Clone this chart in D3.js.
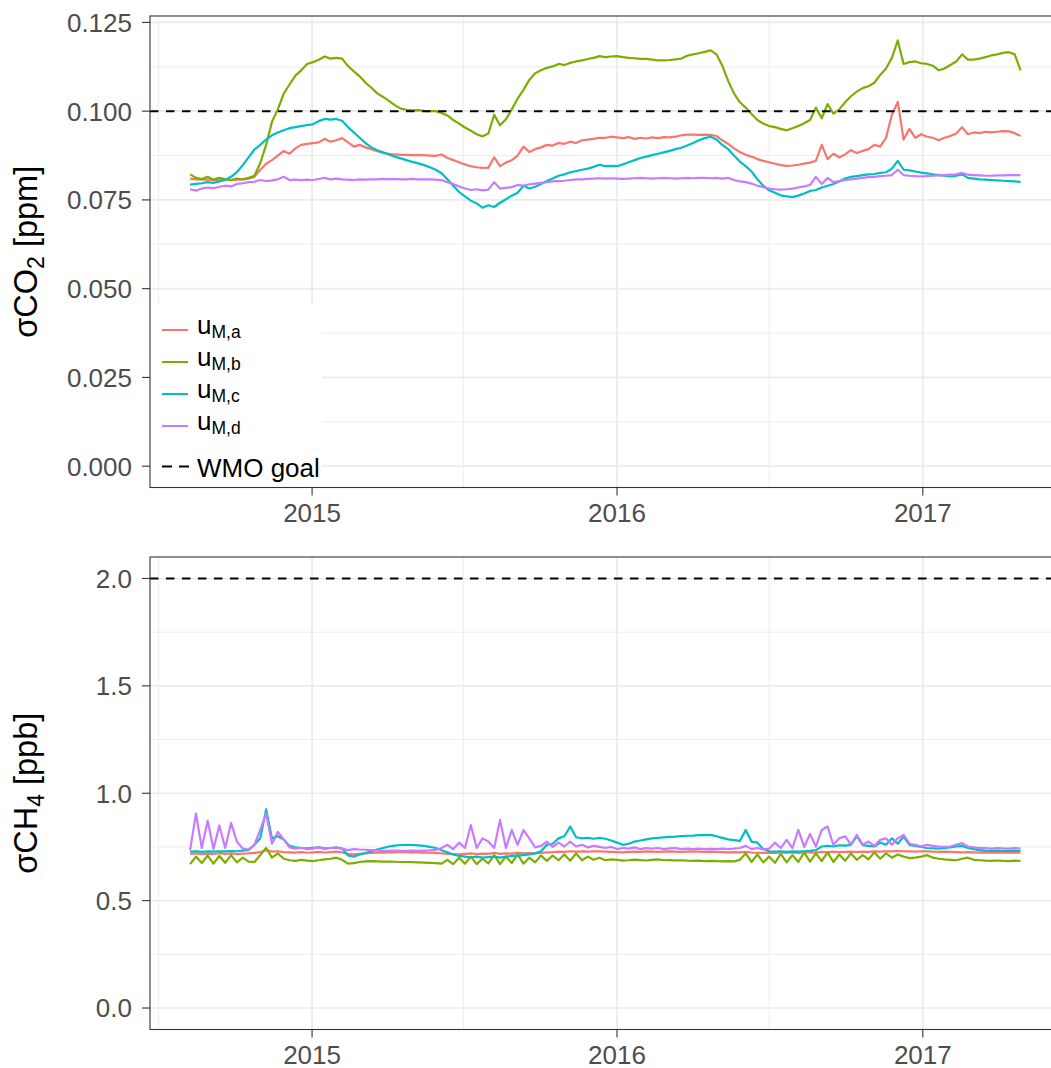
<!DOCTYPE html>
<html>
<head>
<meta charset="utf-8">
<script src="https://cdn.jsdelivr.net/npm/d3@7"></script>
<style>
  body { margin: 0; background: #fff; }
  svg { display: block; font-family: "Liberation Sans", Arial, Helvetica, sans-serif; }
</style>
</head>
<body>
<svg id="chart" width="1051" height="1068"></svg>
<script>
// weekly samples
const startDate = new Date(2014, 7, 8);
const stepDays = 7;

// sigma CO2 [ppm]
const co2_a = [
  0.0810, 0.0808, 0.0807, 0.0808, 0.0806, 0.0807, 0.0808, 0.0806, 0.0807, 0.0808,
  0.0810, 0.0815, 0.0835, 0.0852, 0.0862, 0.0875, 0.0888, 0.0880, 0.0895, 0.0905,
  0.0908, 0.0910, 0.0912, 0.0922, 0.0914, 0.0918, 0.0924, 0.0912, 0.0900, 0.0905,
  0.0898, 0.0893, 0.0887, 0.0882, 0.0880, 0.0878, 0.0877, 0.0877, 0.0876, 0.0877,
  0.0876, 0.0875, 0.0874, 0.0878, 0.0868, 0.0862, 0.0856, 0.0850, 0.0845, 0.0842,
  0.0840, 0.0841, 0.0870, 0.0845, 0.0855, 0.0862, 0.0875, 0.0900, 0.0885, 0.0893,
  0.0898, 0.0905, 0.0903, 0.0910, 0.0908, 0.0914, 0.0910, 0.0918, 0.0920, 0.0922,
  0.0925, 0.0925, 0.0928, 0.0926, 0.0924, 0.0927, 0.0922, 0.0925, 0.0923, 0.0926,
  0.0924, 0.0927, 0.0926, 0.0928, 0.0932, 0.0934, 0.0934, 0.0933, 0.0934, 0.0933,
  0.0930, 0.0918, 0.0908, 0.0895, 0.0885, 0.0877, 0.0872, 0.0865, 0.0860, 0.0856,
  0.0852, 0.0848, 0.0846, 0.0847, 0.0849, 0.0852, 0.0855, 0.0860, 0.0905, 0.0865,
  0.0880, 0.0870, 0.0878, 0.0890, 0.0882, 0.0888, 0.0893, 0.0905, 0.0900, 0.0925,
  0.0990, 0.1026, 0.0920, 0.0950, 0.0925, 0.0935, 0.0928, 0.0925, 0.0918, 0.0925,
  0.0930, 0.0937, 0.0955, 0.0935, 0.0940, 0.0938, 0.0942, 0.0940, 0.0942, 0.0944,
  0.0943, 0.0938, 0.0930
];
const co2_b = [
  0.0822, 0.0812, 0.0809, 0.0815, 0.0807, 0.0812, 0.0809, 0.0806, 0.0810, 0.0808,
  0.0812, 0.0818, 0.0854, 0.0905, 0.0970, 0.1005, 0.1049, 0.1075, 0.1100, 0.1115,
  0.1133, 0.1138, 0.1145, 0.1154, 0.1148, 0.1150, 0.1148, 0.1127, 0.1112, 0.1098,
  0.1080, 0.1066, 0.1050, 0.1040, 0.1029, 0.1017, 0.1007, 0.1004, 0.1002, 0.1003,
  0.1001, 0.1000, 0.1000, 0.0995, 0.0988, 0.0975, 0.0965, 0.0954, 0.0945, 0.0935,
  0.0929, 0.0937, 0.0990, 0.0960, 0.0977, 0.1005, 0.1035, 0.1060, 0.1088, 0.1107,
  0.1115, 0.1122, 0.1126, 0.1133, 0.1130, 0.1136, 0.1140, 0.1143, 0.1147, 0.1150,
  0.1155, 0.1152, 0.1154, 0.1155, 0.1152, 0.1150, 0.1149, 0.1147, 0.1147, 0.1145,
  0.1143, 0.1143, 0.1144, 0.1146, 0.1148, 0.1156, 0.1160, 0.1163, 0.1167, 0.1171,
  0.1160, 0.1128, 0.1085, 0.1050, 0.1025, 0.1010, 0.0992, 0.0975, 0.0965, 0.0958,
  0.0955, 0.0950, 0.0946, 0.0952, 0.0958, 0.0966, 0.0975, 0.1010, 0.0980, 0.1020,
  0.0993, 0.1005, 0.1025, 0.1042, 0.1055, 0.1065, 0.1070, 0.1080, 0.1102, 0.1120,
  0.1150, 0.1199, 0.1133, 0.1138, 0.1140, 0.1135, 0.1133, 0.1128, 0.1115, 0.1120,
  0.1130, 0.1140, 0.1160, 0.1145, 0.1145, 0.1148, 0.1152, 0.1157, 0.1160, 0.1164,
  0.1166, 0.1160, 0.1115
];
const co2_c = [
  0.0793, 0.0795, 0.0797, 0.0800, 0.0798, 0.0802, 0.0806, 0.0815, 0.0828, 0.0848,
  0.0870, 0.0892, 0.0905, 0.0920, 0.0932, 0.0940, 0.0946, 0.0952, 0.0955, 0.0958,
  0.0961, 0.0963, 0.0972, 0.0978, 0.0976, 0.0978, 0.0973, 0.0955, 0.0940, 0.0925,
  0.0910, 0.0898, 0.0890, 0.0884, 0.0878, 0.0872, 0.0867, 0.0862, 0.0857, 0.0853,
  0.0848, 0.0842, 0.0835, 0.0825, 0.0808, 0.0790, 0.0772, 0.0760, 0.0748, 0.0740,
  0.0728, 0.0735, 0.0730, 0.0742, 0.0752, 0.0762, 0.0770, 0.0790, 0.0782, 0.0787,
  0.0795, 0.0803, 0.0810, 0.0818, 0.0822, 0.0828, 0.0831, 0.0835, 0.0838, 0.0843,
  0.0849, 0.0845, 0.0846, 0.0845, 0.0850, 0.0856, 0.0862, 0.0868, 0.0872, 0.0876,
  0.0880, 0.0884, 0.0888, 0.0893, 0.0897, 0.0903, 0.0910, 0.0918, 0.0924, 0.0928,
  0.0920, 0.0905, 0.0893, 0.0875, 0.0858, 0.0845, 0.0830, 0.0808, 0.0790, 0.0777,
  0.0770, 0.0763, 0.0760, 0.0758, 0.0762, 0.0768, 0.0775, 0.0778, 0.0785, 0.0790,
  0.0795, 0.0802, 0.0810, 0.0815, 0.0817, 0.0820, 0.0822, 0.0823, 0.0826, 0.0828,
  0.0838, 0.0860, 0.0835, 0.0833, 0.0830, 0.0827, 0.0825, 0.0822, 0.0820, 0.0818,
  0.0816, 0.0818, 0.0822, 0.0812, 0.0810, 0.0808, 0.0807, 0.0806, 0.0805, 0.0804,
  0.0803, 0.0802, 0.0801
];
const co2_d = [
  0.0780, 0.0776, 0.0782, 0.0785, 0.0783, 0.0787, 0.0790, 0.0788, 0.0795, 0.0797,
  0.0800, 0.0801, 0.0806, 0.0803, 0.0805, 0.0808, 0.0815, 0.0806, 0.0807, 0.0806,
  0.0807, 0.0806, 0.0809, 0.0812, 0.0808, 0.0810, 0.0808, 0.0807, 0.0806, 0.0808,
  0.0807, 0.0808, 0.0808, 0.0809, 0.0808, 0.0809, 0.0808, 0.0808, 0.0809, 0.0808,
  0.0808, 0.0808, 0.0807, 0.0806, 0.0800, 0.0795, 0.0788, 0.0782, 0.0778, 0.0780,
  0.0777, 0.0779, 0.0800, 0.0782, 0.0784, 0.0786, 0.0792, 0.0790, 0.0794, 0.0796,
  0.0798, 0.0800, 0.0802, 0.0803, 0.0804, 0.0806, 0.0808, 0.0808, 0.0809, 0.0810,
  0.0811, 0.0810, 0.0811, 0.0810, 0.0809, 0.0810, 0.0811, 0.0812, 0.0811, 0.0810,
  0.0811, 0.0812, 0.0811, 0.0810, 0.0811, 0.0812, 0.0811, 0.0812, 0.0812, 0.0811,
  0.0812, 0.0810, 0.0812, 0.0806, 0.0802, 0.0800, 0.0796, 0.0790, 0.0786, 0.0782,
  0.0780, 0.0779, 0.0780, 0.0782, 0.0785, 0.0788, 0.0792, 0.0815, 0.0795, 0.0812,
  0.0800, 0.0803, 0.0806, 0.0808, 0.0810, 0.0812, 0.0814, 0.0815, 0.0817, 0.0818,
  0.0820, 0.0835, 0.0820, 0.0818, 0.0817, 0.0816, 0.0817, 0.0818, 0.0819, 0.0820,
  0.0821, 0.0822, 0.0826, 0.0821, 0.0820, 0.0819, 0.0818, 0.0818, 0.0819, 0.0819,
  0.0820, 0.0820, 0.0820
];

// sigma CH4 [ppb]
const ch4_a = [
  0.718, 0.720, 0.716, 0.719, 0.717, 0.721, 0.718, 0.720, 0.717, 0.719,
  0.720, 0.722, 0.726, 0.735, 0.728, 0.730, 0.726, 0.725, 0.724, 0.726,
  0.723, 0.725, 0.727, 0.724, 0.726, 0.728, 0.725, 0.718, 0.715, 0.718,
  0.720, 0.722, 0.723, 0.724, 0.725, 0.725, 0.726, 0.726, 0.725, 0.725,
  0.724, 0.723, 0.722, 0.720, 0.718, 0.717, 0.716, 0.718, 0.720, 0.717,
  0.719, 0.718, 0.722, 0.718, 0.720, 0.719, 0.722, 0.720, 0.721, 0.720,
  0.722, 0.725, 0.726, 0.728, 0.727, 0.730, 0.728, 0.729, 0.728, 0.730,
  0.729, 0.728, 0.727, 0.726, 0.725, 0.727, 0.728, 0.727, 0.729, 0.728,
  0.727, 0.728, 0.729, 0.728, 0.727, 0.728, 0.729, 0.728, 0.727, 0.728,
  0.727, 0.726, 0.725, 0.726, 0.725, 0.727, 0.724, 0.723, 0.722, 0.723,
  0.722, 0.724, 0.723, 0.725, 0.722, 0.726, 0.724, 0.725, 0.727, 0.725,
  0.728, 0.726, 0.727, 0.728, 0.726, 0.728, 0.727, 0.729, 0.728, 0.730,
  0.729, 0.731, 0.730, 0.729, 0.728, 0.730, 0.729, 0.728, 0.727, 0.728,
  0.727, 0.726, 0.725, 0.726, 0.725, 0.724, 0.725, 0.724, 0.723, 0.724,
  0.723, 0.724, 0.723
];
const ch4_b = [
  0.670, 0.705, 0.675, 0.710, 0.672, 0.708, 0.676, 0.712, 0.678, 0.700,
  0.682, 0.680, 0.712, 0.745, 0.700, 0.720, 0.695, 0.688, 0.685, 0.690,
  0.686, 0.684, 0.688, 0.692, 0.695, 0.700, 0.690, 0.672, 0.675, 0.680,
  0.683, 0.684, 0.683, 0.682, 0.682, 0.681, 0.680, 0.680, 0.679, 0.678,
  0.677, 0.676, 0.675, 0.672, 0.690, 0.670, 0.700, 0.672, 0.705, 0.670,
  0.695, 0.673, 0.712, 0.670, 0.705, 0.675, 0.715, 0.672, 0.700, 0.678,
  0.710, 0.685, 0.710, 0.688, 0.715, 0.686, 0.720, 0.688, 0.705, 0.690,
  0.700, 0.688, 0.692, 0.690, 0.686, 0.688, 0.691, 0.689, 0.687, 0.690,
  0.692, 0.688, 0.689, 0.687, 0.688, 0.686, 0.685, 0.686, 0.684, 0.685,
  0.684, 0.683, 0.684, 0.683, 0.690, 0.720, 0.680, 0.715, 0.678, 0.705,
  0.676, 0.718, 0.678, 0.712, 0.680, 0.725, 0.682, 0.720, 0.684, 0.725,
  0.680, 0.715, 0.686, 0.720, 0.690, 0.712, 0.692, 0.725, 0.695, 0.720,
  0.700, 0.715, 0.705, 0.698, 0.700, 0.705, 0.712, 0.700, 0.695, 0.692,
  0.690, 0.688, 0.695, 0.700, 0.690, 0.688, 0.686, 0.685, 0.687, 0.685,
  0.684, 0.686, 0.685
];
const ch4_c = [
  0.728, 0.730, 0.727, 0.729, 0.728, 0.730, 0.729, 0.731, 0.730, 0.733,
  0.735, 0.760, 0.790, 0.925, 0.790, 0.800, 0.785, 0.755, 0.748, 0.745,
  0.744, 0.746, 0.748, 0.744, 0.745, 0.747, 0.742, 0.710, 0.705, 0.715,
  0.722, 0.730, 0.738, 0.745, 0.752, 0.756, 0.759, 0.760, 0.759, 0.757,
  0.755, 0.750, 0.745, 0.735, 0.725, 0.715, 0.708, 0.705, 0.702, 0.705,
  0.700, 0.703, 0.705, 0.700, 0.705, 0.708, 0.710, 0.712, 0.715, 0.720,
  0.730, 0.760, 0.765, 0.790, 0.800, 0.845, 0.795, 0.790, 0.792, 0.788,
  0.792, 0.788, 0.780, 0.770, 0.760, 0.765, 0.775, 0.780, 0.785, 0.790,
  0.792, 0.795, 0.797, 0.798, 0.800, 0.802, 0.803, 0.805, 0.805, 0.806,
  0.800, 0.792, 0.785, 0.782, 0.778, 0.829, 0.775, 0.770, 0.740, 0.730,
  0.728, 0.730, 0.727, 0.729, 0.728, 0.730, 0.732, 0.735, 0.752, 0.755,
  0.752, 0.758, 0.756, 0.760, 0.800, 0.758, 0.755, 0.752, 0.770, 0.760,
  0.790, 0.765, 0.798, 0.760, 0.755, 0.750, 0.745, 0.744, 0.742, 0.745,
  0.748, 0.752, 0.755, 0.745, 0.740, 0.735, 0.733, 0.732, 0.733, 0.731,
  0.732, 0.733, 0.731
];
const ch4_d = [
  0.735, 0.905, 0.745, 0.872, 0.740, 0.850, 0.745, 0.862, 0.775, 0.742,
  0.738, 0.760, 0.830, 0.905, 0.765, 0.820, 0.785, 0.748, 0.742, 0.745,
  0.740, 0.742, 0.748, 0.740, 0.745, 0.748, 0.742, 0.735, 0.740, 0.738,
  0.737, 0.735, 0.733, 0.732, 0.732, 0.733, 0.732, 0.732, 0.733, 0.732,
  0.733, 0.734, 0.736, 0.745, 0.760, 0.740, 0.770, 0.745, 0.852, 0.745,
  0.790, 0.775, 0.745, 0.876, 0.745, 0.829, 0.760, 0.829, 0.790, 0.748,
  0.755, 0.775, 0.750, 0.770, 0.752, 0.775, 0.752, 0.760, 0.748, 0.755,
  0.750, 0.745, 0.750, 0.740, 0.745, 0.742, 0.748, 0.740, 0.745, 0.742,
  0.745, 0.740, 0.743, 0.745, 0.740, 0.742, 0.740, 0.742, 0.740, 0.741,
  0.740, 0.742, 0.740, 0.742, 0.745, 0.755, 0.740, 0.745, 0.738, 0.742,
  0.770, 0.745, 0.783, 0.745, 0.829, 0.750, 0.810, 0.752, 0.829, 0.845,
  0.760, 0.790, 0.800, 0.760, 0.806, 0.760, 0.775, 0.755, 0.783, 0.790,
  0.760, 0.790, 0.806, 0.765, 0.760, 0.752, 0.760, 0.755, 0.752, 0.750,
  0.752, 0.760, 0.768, 0.752, 0.748, 0.745, 0.745, 0.742, 0.745, 0.743,
  0.742, 0.745, 0.742
];

const seriesSubs = ['M,a', 'M,b', 'M,c', 'M,d'];
const seriesColors = ['#F8766D', '#7CAE00', '#00BFC4', '#C77CFF'];
const co2Ticks = [0, 0.025, 0.05, 0.075, 0.1, 0.125];
const ch4Ticks = [0, 0.5, 1.0, 1.5, 2.0];
const yearTicks = [new Date(2015, 0, 1), new Date(2016, 0, 1), new Date(2017, 0, 1)];
const midYears = [new Date(2014, 6, 1), new Date(2015, 6, 1), new Date(2016, 6, 1), new Date(2017, 6, 1)];
const co2Goal = 0.1;
const ch4Goal = 2.0;

const svg = d3.select('#chart');
const left = 150, right = 1064;
const x = d3.scaleTime()
  .domain([new Date(2014, 5, 21), new Date(2017, 5, 19)])
  .range([left, right]);

const nPts = Math.min(co2_a.length, co2_b.length, co2_c.length, co2_d.length,
  ch4_a.length, ch4_b.length, ch4_c.length, ch4_d.length);
const dates = d3.range(nPts).map(i => d3.timeDay.offset(startDate, i * stepDays));

const panels = [
  { id: 'co2', top: 16, bottom: 487.5, domain: [-0.006, 0.1268], ticks: co2Ticks,
    fmt: d3.format('.3f'), goal: co2Goal, series: [co2_a, co2_b, co2_c, co2_d],
    gas: 'CO', sub: '2', unit: ' [ppm]', legend: true },
  { id: 'ch4', top: 557, bottom: 1029.5, domain: [-0.1, 2.1], ticks: ch4Ticks,
    fmt: d3.format('.1f'), goal: ch4Goal, series: [ch4_a, ch4_b, ch4_c, ch4_d],
    gas: 'CH', sub: '4', unit: ' [ppb]', legend: false }
];

panels.forEach(p => {
  const y = d3.scaleLinear().domain(p.domain).range([p.bottom, p.top]);
  const g = svg.append('g');

  g.append('clipPath').attr('id', 'clip-' + p.id)
    .append('rect').attr('x', left).attr('y', p.top)
    .attr('width', right - left).attr('height', p.bottom - p.top);

  // grid
  const step = p.ticks[1] - p.ticks[0];
  const minorY = d3.range(p.ticks[0] - step / 2, p.ticks[p.ticks.length - 1] + step, step)
    .filter(v => v > p.domain[0] && v < p.domain[1]);
  const grid = g.append('g').attr('stroke', '#EBEBEB');
  grid.selectAll('.ymin').data(minorY).enter().append('line')
    .attr('x1', left).attr('x2', right).attr('y1', d => y(d)).attr('y2', d => y(d))
    .attr('stroke-width', 0.9);
  grid.selectAll('.xmin').data(midYears.filter(d => x(d) > left && x(d) < right)).enter().append('line')
    .attr('y1', p.top).attr('y2', p.bottom).attr('x1', d => x(d)).attr('x2', d => x(d))
    .attr('stroke-width', 0.9);
  grid.selectAll('.ymaj').data(p.ticks).enter().append('line')
    .attr('x1', left).attr('x2', right).attr('y1', d => y(d)).attr('y2', d => y(d))
    .attr('stroke-width', 1.7);
  grid.selectAll('.xmaj').data(yearTicks).enter().append('line')
    .attr('y1', p.top).attr('y2', p.bottom).attr('x1', d => x(d)).attr('x2', d => x(d))
    .attr('stroke-width', 1.7);

  // series
  const line = d3.line().x((d, i) => x(dates[i])).y(d => y(d));
  const plot = g.append('g').attr('clip-path', `url(#clip-${p.id})`);
  p.series.forEach((s, k) => {
    plot.append('path')
      .attr('d', line(s.slice(0, nPts)))
      .attr('fill', 'none')
      .attr('stroke', seriesColors[k])
      .attr('stroke-width', 2.2)
      .attr('stroke-linejoin', 'round');
  });

  // WMO goal
  plot.append('line')
    .attr('x1', left).attr('x2', right)
    .attr('y1', y(p.goal)).attr('y2', y(p.goal))
    .attr('stroke', '#000').attr('stroke-width', 2)
    .attr('stroke-dasharray', '8.5,7.5');

  // legend
  if (p.legend) {
    const lg = g.append('g');
    lg.append('rect').attr('x', left).attr('y', 304)
      .attr('width', 172).attr('height', p.bottom - 304).attr('fill', '#fff');
    seriesSubs.forEach((s, k) => {
      const ky = 330 + k * 32;
      lg.append('line').attr('x1', 162).attr('x2', 188).attr('y1', ky).attr('y2', ky)
        .attr('stroke', seriesColors[k]).attr('stroke-width', 2);
      const t = lg.append('text').attr('x', 197).attr('y', ky + 3.5)
        .attr('font-size', 26).attr('fill', '#000');
      t.append('tspan').text('u');
      t.append('tspan').attr('dy', 4).attr('font-size', 17.5).text(s);
    });
    lg.append('line').attr('x1', 162).attr('x2', 190).attr('y1', 466.5).attr('y2', 466.5)
      .attr('stroke', '#000').attr('stroke-width', 2).attr('stroke-dasharray', '10,7');
    lg.append('text').attr('x', 197).attr('y', 476.5)
      .attr('font-size', 26).attr('fill', '#000').text('WMO goal');
  }

  // border
  g.append('rect').attr('x', left).attr('y', p.top)
    .attr('width', right - left).attr('height', p.bottom - p.top)
    .attr('fill', 'none').attr('stroke', '#333').attr('stroke-width', 1.1);

  // y axis
  const ya = g.append('g');
  ya.selectAll('line').data(p.ticks).enter().append('line')
    .attr('x1', left - 8).attr('x2', left).attr('y1', d => y(d)).attr('y2', d => y(d))
    .attr('stroke', '#333').attr('stroke-width', 1.1);
  ya.selectAll('text').data(p.ticks).enter().append('text')
    .attr('x', 132).attr('y', d => y(d)).attr('dy', '0.36em')
    .attr('text-anchor', 'end').attr('font-size', 26).attr('fill', '#4D4D4D')
    .text(d => p.fmt(d));

  // x axis
  const xa = g.append('g');
  xa.selectAll('line').data(yearTicks).enter().append('line')
    .attr('x1', d => x(d)).attr('x2', d => x(d)).attr('y1', p.bottom).attr('y2', p.bottom + 8)
    .attr('stroke', '#333').attr('stroke-width', 1.1);
  xa.selectAll('text').data(yearTicks).enter().append('text')
    .attr('x', d => x(d)).attr('y', p.bottom + 34)
    .attr('text-anchor', 'middle').attr('font-size', 26).attr('fill', '#4D4D4D')
    .text(d => d.getFullYear());

  // y title
  const cy = (p.top + p.bottom) / 2;
  const tt = g.append('text')
    .attr('transform', `translate(37,${cy}) rotate(-90)`)
    .attr('text-anchor', 'middle').attr('font-size', 32.5).attr('fill', '#000');
  tt.append('tspan').text('σ' + p.gas);
  tt.append('tspan').attr('dy', 7).attr('font-size', 23).text(p.sub);
  tt.append('tspan').attr('dy', -7).text(p.unit);
});
</script>
</body>
</html>
